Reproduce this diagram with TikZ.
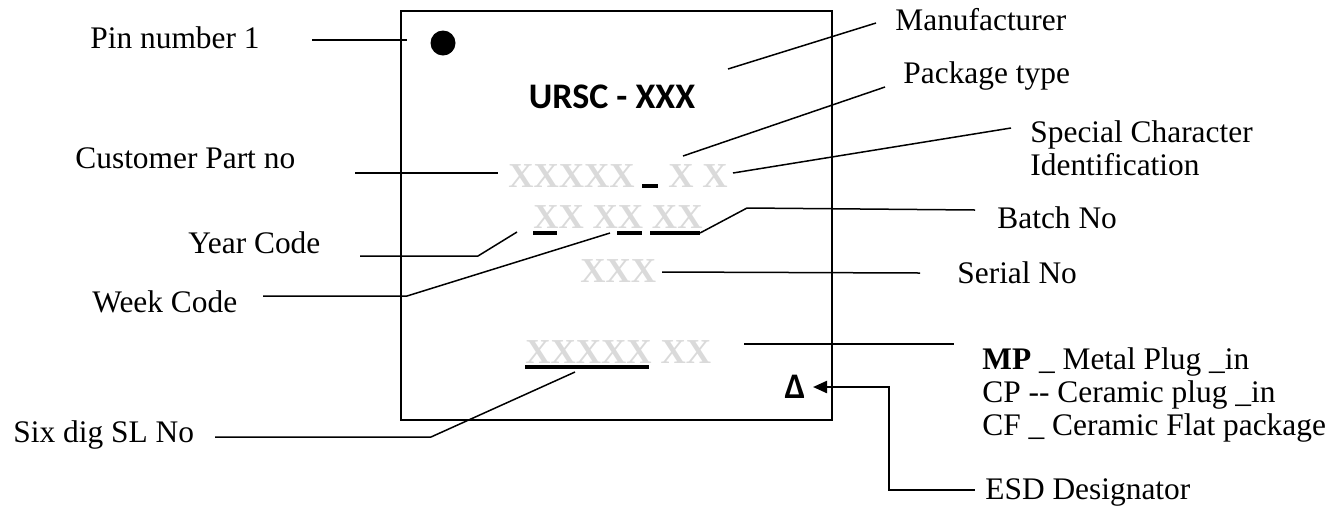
\documentclass[tikz,border=0pt]{standalone}
\usepackage{fontspec}
\setmainfont{Liberation Serif}
\newfontfamily\calibrifont{Carlito}
\usetikzlibrary{arrows.meta}
\definecolor{markgray}{HTML}{DADADA}
\tikzset{
  lbl/.style={anchor=base west, inner sep=0pt, align=left,
    font=\fontsize{15.7}{16.5}\selectfont},
  markrow/.style={anchor=base west, inner sep=0pt, text=markgray,
    font=\fontsize{17.5}{18}\selectfont\bfseries},
  chipbox/.style={draw, line width=0.8pt, inner sep=0pt, outer sep=0pt,
    minimum width=215.5pt, minimum height=204.5pt},
  leader/.style={line width=0.75pt},
  uline/.style={line width=1.6pt},
  esdarrow/.style={line width=1.1pt, {Triangle[length=7pt,width=6pt]}-},
}

\begin{document}
\begin{tikzpicture}[x=0.5pt, y=-0.5pt]
  \useasboundingbox (0,0) rectangle (1344,505);

  % Chip
  \node[chipbox] (chip) at (616.5,215.5) {};
  \node[circle, fill, minimum size=12.5pt, inner sep=0pt] (pindot) at (443,43) {};
  \node[anchor=base, inner sep=0pt, font=\calibrifont\fontsize{18}{20}\selectfont\bfseries] (ursc) at (612,108) {URSC - XXX};
  \node[anchor=base, inner sep=0pt, font=\calibrifont\fontsize{18}{20}\selectfont\bfseries] (esdmark) at (795,398) {Δ};

  % Marking rows
  \node[markrow] (rowa) at (508,187) {XXXXX};
  \node[markrow] (rowab) at (668,187) {X X};
  \node[markrow] (rowb) at (533,228) {XX XX XX};
  \node[markrow] (rowc) at (580,282) {XXX};
  \node[markrow] (rowd) at (525,363) {XXXXX XX};
  \draw[uline] (642,186) -- (658,186);
  \draw[uline] (533,233) -- (557,233);
  \draw[uline] (617,233) -- (642,233);
  \draw[uline] (650,233) -- (700,233);
  \draw[uline] (525,367) -- (649,367);

  % Labels left
  \node[lbl] (pinlbl) at (90,48) {Pin number 1};
  \node[lbl] (custlbl) at (75,168) {Customer Part no};
  \node[lbl] (yearlbl) at (188,253) {Year Code};
  \node[lbl] (weeklbl) at (92,312) {Week Code};
  \node[lbl] (sixlbl) at (13,442) {Six dig SL No};

  % Labels right
  \node[lbl] (mfrlbl) at (895,30) {Manufacturer};
  \node[lbl] (pkglbl) at (903,83) {Package type};
  \node[lbl] (speclbl) at (1030,175) {Special Character\\Identification};
  \node[lbl] (batchlbl) at (997,228) {Batch No};
  \node[lbl] (seriallbl) at (957,283) {Serial No};
  \node[lbl] (typelbl) at (982,435) {\textbf{MP} \_ Metal Plug \_in\\CP -{}- Ceramic plug \_in\\CF \_ Ceramic Flat package};
  \node[lbl] (esdlbl) at (985,499) {ESD Designator};

  % Leaders
  \coordinate (yearbend) at (478,256);
  \coordinate (weekbend) at (407,296);
  \coordinate (sixbend) at (431,437);
  \coordinate (batchbend) at (747,208);
  \coordinate (esdtip) at (813,387);
  \coordinate (esdbend) at (889,490);
  \draw[leader] (312,40) -- (407,40);
  \draw[leader] (355,173) -- (498,173);
  \draw[leader] (360,256) -- (yearbend) -- (517,232);
  \draw[leader] (263,296) -- (weekbend) -- (610,233);
  \draw[leader] (215,437) -- (sixbend) -- (575,372);
  \draw[leader] (728,69) -- (876,23);
  \draw[leader] (683,156) -- (885,87);
  \draw[leader] (733,173) -- (1011,128);
  \draw[leader] (700,233) -- (batchbend) -- (975,210);
  \draw[leader] (662,272) -- (920,273);
  \draw[leader] (744,344) -- (954,344);
  \draw[esdarrow] (esdtip) -| (esdbend) -- (975,490);
\end{tikzpicture}
\end{document}
